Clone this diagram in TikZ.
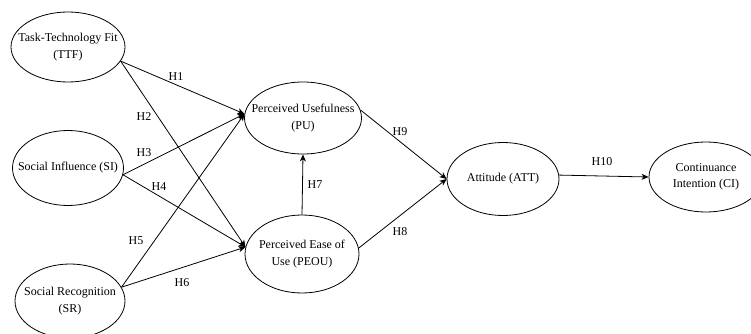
\documentclass[tikz,border=0pt]{standalone}
\usepackage{fontspec}
\setmainfont{Liberation Serif}
\usetikzlibrary{shapes.geometric}
\usetikzlibrary{arrows.meta}
\tikzset{construct/.style={draw, ellipse, inner sep=-40pt, align=center, font=\fontsize{12}{16.5}\selectfont}}
\tikzset{hyp/.style={font=\fontsize{12}{14}\selectfont, inner sep=1}}

\begin{document}
\begin{tikzpicture}[x=1pt, y=-1pt, line width=.8pt, >={Stealth[length=7pt,width=6pt,inset=2pt]}]
\clip (0,0) rectangle (751,334);
\node[construct, minimum width=114, minimum height=70] (ttf) at (68,47) {Task-Technology Fit\\(TTF)};
\node[construct, minimum width=111, minimum height=75] (si) at (68,168) {Social Influence (SI)};
\node[construct, minimum width=110, minimum height=74] (sr) at (70,301) {Social Recognition\\(SR)};
\node[construct, minimum width=117, minimum height=72] (pu) at (303,118) {Perceived Usefulness\\(PU)};
\node[construct, minimum width=114, minimum height=78] (peou) at (302,254) {Perceived Ease of\\Use (PEOU)};
\node[construct, minimum width=112, minimum height=73] (att) at (503,179) {Attitude (ATT)};
\node[construct, minimum width=114, minimum height=70] (ci) at (706,177) {Continuance\\Intention (CI)};

\draw[->] (ttf.-15) -- (pu.176);
\draw[->] (ttf.-15) -- (peou.173);
\draw[->] (si.-7) -- (pu.176);
\draw[->] (si.-7) -- (peou.173);
\draw[->] (sr.15) -- (pu.176);
\draw[->] (sr.15) -- (peou.173);
\draw[->] (peou.north) -- (pu.south);
\draw[->] (pu.8) -- (att.west);
\draw[->] (peou.6) -- (att.west);
\draw[->] (att.4) -- (ci.west);

\node[hyp] (h1) at (176,77) {H1};
\node[hyp] (h2) at (144,117) {H2};
\node[hyp] (h3) at (144,153) {H3};
\node[hyp] (h4) at (159,187) {H4};
\node[hyp] (h5) at (136,241) {H5};
\node[hyp] (h6) at (182,283) {H6};
\node[hyp] (h7) at (315,185) {H7};
\node[hyp] (h8) at (400,232) {H8};
\node[hyp] (h9) at (400,132) {H9};
\node[hyp] (h10) at (602,162) {H10};
\end{tikzpicture}
\end{document}
